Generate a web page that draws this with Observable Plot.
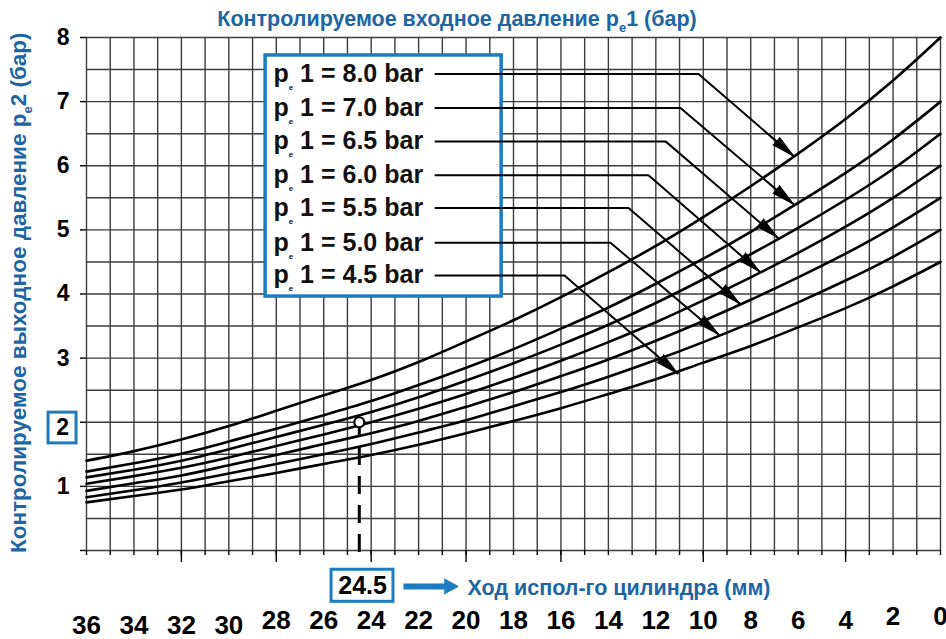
<!DOCTYPE html>
<html>
<head>
<meta charset="utf-8">
<script src="https://cdn.jsdelivr.net/npm/d3@7"></script>
<script src="https://cdn.jsdelivr.net/npm/@observablehq/plot@0.6"></script>
<style>
  html, body { margin: 0; padding: 0; background: #fff; }
  #chart svg { display: block; }
</style>
</head>
<body>
<div id="chart"></div>
<script>
// ---------- data ----------
const strokeMM = [0, 2, 4, 6, 8, 10, 12, 14, 16, 18, 20, 22, 24, 26, 28, 30, 32, 34, 36];
const pe1Levels = [8.0, 7.0, 6.5, 6.0, 5.5, 5.0, 4.5];
const pe2_80 = [8.00, 7.33, 6.73, 6.19, 5.68, 5.20, 4.75, 4.34, 3.95, 3.59, 3.26, 2.94, 2.66, 2.42, 2.18, 1.94, 1.73, 1.55, 1.40];
const pe2_70 = [7.00, 6.41, 5.89, 5.42, 4.97, 4.55, 4.16, 3.79, 3.46, 3.14, 2.85, 2.58, 2.33, 2.11, 1.90, 1.70, 1.51, 1.36, 1.23];
const pe2_65 = [6.50, 5.95, 5.47, 5.03, 4.62, 4.23, 3.86, 3.52, 3.21, 2.92, 2.65, 2.39, 2.16, 1.96, 1.77, 1.58, 1.40, 1.26, 1.14];
const pe2_60 = [6.00, 5.50, 5.05, 4.64, 4.26, 3.90, 3.56, 3.25, 2.96, 2.69, 2.44, 2.21, 2.00, 1.81, 1.63, 1.45, 1.29, 1.16, 1.04];
const pe2_55 = [5.50, 5.04, 4.63, 4.26, 3.91, 3.58, 3.27, 2.98, 2.72, 2.47, 2.24, 2.02, 1.83, 1.66, 1.49, 1.33, 1.17, 1.05, 0.93];
const pe2_50 = [5.00, 4.58, 4.21, 3.87, 3.55, 3.25, 2.97, 2.71, 2.47, 2.25, 2.03, 1.84, 1.66, 1.50, 1.35, 1.20, 1.06, 0.94, 0.83];
const pe2_45 = [4.50, 4.12, 3.78, 3.48, 3.19, 2.93, 2.67, 2.44, 2.22, 2.02, 1.83, 1.65, 1.49, 1.35, 1.21, 1.08, 0.95, 0.85, 0.75];
const seriesValues = [pe2_80, pe2_70, pe2_65, pe2_60, pe2_55, pe2_50, pe2_45];

// legend leader lines (data coordinates)
const legendRowY   = [7.43, 6.90, 6.38, 5.85, 5.34, 4.80, 4.29];
const leaderElbowX = [10.20, 10.96, 11.59, 12.31, 13.15, 13.91, 15.85];
const arrowTipX    = [6.19, 6.19, 6.87, 7.63, 8.47, 9.36, 11.08];
const arrowTipY    = [6.15, 5.40, 4.88, 4.35, 3.85, 3.37, 2.76];

// example reading
const exampleStroke = 24.5;
const examplePe2 = 2;

// ticks & labels
const xTickLabelsLow  = [36, 34, 32, 30];
const xTickLabelsMid  = [28, 26, 24, 22, 20, 18, 16, 14, 12, 10, 8, 6, 4];
const xTickLabelsHigh = [2, 0];
const xLongTicks = [32, 28, 24, 20, 16, 10, 4];
const yTickValues = [0, 1, 2, 3, 4, 5, 6, 7, 8];
const yTickLabels = [1, 3, 4, 5, 6, 7, 8];

const titleTop = "Контролируемое входное давление p_e1 (бар)";
const titleLeft = "Контролируемое выходное давление p_e2 (бар)";
const titleBottom = "Ход испол-го цилиндра (мм)";

// ---------- layout ----------
const W = 946, H = 639, ML = 86, MR = 6, MT = 37, MB = 89;
const kx = (W - ML - MR) / 36;   // px per mm
const ky = (H - MT - MB) / 8;    // px per bar
const BLUE_T = "#1d66a3";
const BLUE_B = "#1b7cc0";
const FONT = "'Liberation Sans', Arial, Helvetica, sans-serif";

const curveRows = [];
pe1Levels.forEach((p, i) => strokeMM.forEach((x, j) => curveRows.push({pe1: p, x, y: seriesValues[i][j]})));

const leaderRows = [];
pe1Levels.forEach((p, i) => {
  leaderRows.push({pe1: p, x: 21.29, y: legendRowY[i]});
  leaderRows.push({pe1: p, x: leaderElbowX[i], y: legendRowY[i]});
  leaderRows.push({pe1: p, x: arrowTipX[i], y: arrowTipY[i]});
});
const tips = pe1Levels.map((p, i) => {
  const dxp = (leaderElbowX[i] - arrowTipX[i]) * kx;
  const dyp = (legendRowY[i] - arrowTipY[i]) * ky;
  return {x: arrowTipX[i], y: arrowTipY[i], rot: Math.atan2(dxp, -dyp) * 180 / Math.PI};
});
const legendRows = pe1Levels.map((p, i) => ({label: `p_e 1 = ${p.toFixed(1)} bar`, y: legendRowY[i]}));

const gridX = d3.range(0, 37, 1);
const gridY = d3.range(0, 8.01, 0.5);

const chart = Plot.plot({
  width: W, height: H,
  marginLeft: ML, marginRight: MR, marginTop: MT, marginBottom: MB,
  style: {fontFamily: FONT, background: "#fff", color: "#000", overflow: "visible"},
  x: {domain: [36, 0], axis: null},
  y: {domain: [0, 8], axis: null},
  marks: [
    // grid
    Plot.ruleX(gridX, {y1: 0, y2: 8, stroke: "#3c3c3c", strokeWidth: 1.4}),
    Plot.ruleY(gridY, {x1: 36, x2: 0, stroke: "#3c3c3c", strokeWidth: 1.4}),
    // axes ticks
    Plot.axisX(gridX, {anchor: "bottom", tickSize: 5, tickFormat: () => "", label: null, strokeWidth: 1.4}),
    Plot.axisX(xLongTicks, {anchor: "bottom", tickSize: 12, tickFormat: () => "", label: null, strokeWidth: 1.4}),
    Plot.axisY(yTickValues, {anchor: "left", tickSize: 6, tickPadding: 11, fontSize: 23, fontWeight: "bold", label: null, strokeWidth: 1.4,
      tickFormat: d => yTickLabels.includes(d) ? String(d) : ""}),
    // x tick labels
    Plot.text(xTickLabelsLow, {x: d => d, frameAnchor: "bottom", dy: 75, text: d => String(d), fontSize: 26, fontWeight: "bold", lineAnchor: "middle"}),
    Plot.text(xTickLabelsMid, {x: d => d, frameAnchor: "bottom", dy: 70, text: d => String(d), fontSize: 26, fontWeight: "bold", lineAnchor: "middle"}),
    Plot.text(xTickLabelsHigh, {x: d => d, frameAnchor: "bottom", dy: 66, text: d => String(d), fontSize: 26, fontWeight: "bold", lineAnchor: "middle"}),
    // curves
    Plot.line(curveRows, {x: "x", y: "y", z: "pe1", curve: "natural", stroke: "#000", strokeWidth: 2.6}),
    // legend box
    Plot.rect([0], {x1: 28.45, x2: 18.50, y1: 3.96, y2: 7.72, fill: "#fff", stroke: BLUE_B, strokeWidth: 3.5}),
    Plot.text(legendRows, {x: 28.12, y: "y", text: "label", textAnchor: "start", lineAnchor: "middle", fontSize: 25, fontWeight: "bold", fill: "#111"}),
    // leader lines and arrowheads
    Plot.line(leaderRows, {x: "x", y: "y", z: "pe1", stroke: "#000", strokeWidth: 2}),
    Plot.vector(tips, {x: "x", y: "y", rotate: "rot", length: 23, r: 5, shape: "spike", anchor: "end", fill: "#000", stroke: "#000", strokeWidth: 1}),
    // example reading
    Plot.ruleX([exampleStroke], {y1: 1.92, y2: -0.11, stroke: "#000", strokeWidth: 3, strokeDasharray: "18,11", strokeDashoffset: 9}),
    Plot.dot([{x: exampleStroke, y: examplePe2}], {x: "x", y: "y", r: 5, fill: "#fff", stroke: "#000", strokeWidth: 2.2}),
    // "2" box on y axis
    Plot.rect([0], {x1: 37.60, x2: 36.42, y1: 1.67, y2: 2.15, fill: "#fff", stroke: BLUE_B, strokeWidth: 3}),
    Plot.text([String(examplePe2)], {x: 37.01, y: 1.91, text: d => d, fontSize: 23, fontWeight: "bold", lineAnchor: "middle"}),
    // "24.5" box and arrow
    Plot.rect([0], {x1: 25.67, x2: 23.06, y1: -0.80, y2: -0.30, fill: "#fff", stroke: BLUE_B, strokeWidth: 3}),
    Plot.text([String(exampleStroke)], {x: 24.36, y: -0.56, text: d => d, fontSize: 25, fontWeight: "bold", lineAnchor: "middle"}),
    Plot.link([0], {x1: 22.64, x2: 20.85, y1: -0.56, y2: -0.56, stroke: BLUE_B, strokeWidth: 6}),
    Plot.vector([0], {x: 20.33, y: -0.56, rotate: 90, length: 14, r: 7.5, shape: "spike", anchor: "end", fill: BLUE_B, stroke: BLUE_B, strokeWidth: 1}),
    // titles
    Plot.text([titleTop], {x: 20.38, y: 8.28, text: d => d, fontSize: 21.5, fontWeight: "bold", fill: BLUE_T, lineAnchor: "middle"}),
    Plot.text([titleLeft], {x: 38.85, y: 4.02, text: d => d, rotate: -90, fontSize: 22.5, fontWeight: "bold", fill: BLUE_T, lineAnchor: "middle"}),
    Plot.text([titleBottom], {x: 19.94, y: -0.59, text: d => d, textAnchor: "start", fontSize: 21.5, fontWeight: "bold", fill: BLUE_T, lineAnchor: "middle"})
  ]
});

// subscripts "e"
d3.select(chart).selectAll("text").each(function () {
  const s = this.textContent;
  if (!s.includes("_e")) return;
  const [a, b] = s.split("_e");
  const legend = s.includes("bar");
  const size = legend ? 8 : 13, shift = legend ? 8 : 6;
  const t = d3.select(this);
  t.text(null);
  t.append("tspan").text(a);
  t.append("tspan").attr("font-size", size).attr("dy", shift).text("e");
  t.append("tspan").attr("dy", -shift).text(b);
});

document.getElementById("chart").appendChild(chart);
</script>
</body>
</html>
